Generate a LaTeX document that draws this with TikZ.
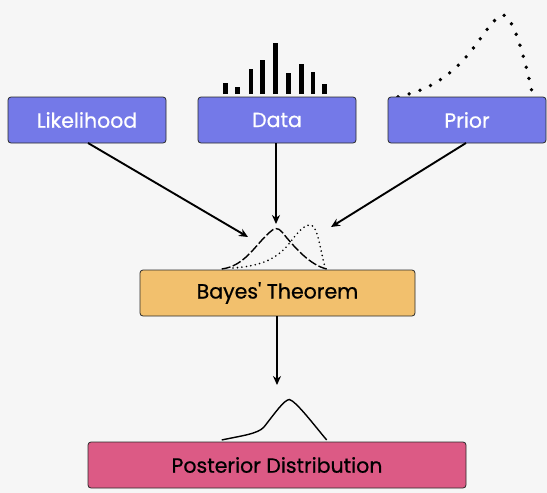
\documentclass[tikz,border=0pt]{standalone}
\usepackage{fontspec}
\setmainfont{Poppins}
\newfontfamily\labelfont{Poppins}[FakeBold=0.6]
\usetikzlibrary{arrows.meta}
\definecolor{bg}{HTML}{F6F6F6}
\definecolor{inputfill}{HTML}{7479E8}
\definecolor{bayesfill}{HTML}{F2C06D}
\definecolor{postfill}{HTML}{DC5A85}
\definecolor{edge}{HTML}{2A2A2A}
\tikzset{
  box/.style={draw=edge, line width=0.8pt, rounded corners=3pt, minimum height=46pt, inner sep=0pt, font=\labelfont\fontsize{20.5}{24}\selectfont},
  inbox/.style={box, fill=inputfill, text=white, minimum width=158pt},
  link/.style={line width=1.9pt, -{Stealth[length=9pt,width=8pt]}},
  curve/.style={line width=1.4pt, black},
  bar/.style={line width=4.5pt, black}
}
\begin{document}
\begin{tikzpicture}[x=1pt,y=-1pt]
\fill[bg] (0,0) rectangle (547,493);
\useasboundingbox (0,0) rectangle (547,493);

% data histogram above the Data box
\foreach \x/\t in {225.7/83.3, 237.7/87.3, 251/68.7, 262.3/60.3, 275.7/42.7, 288.7/72.7, 301.7/64, 313/72.3, 324.3/83.7}
  \draw[bar] (\x,94) -- (\x,\t);

% prior density (dotted)
\draw[line width=3.8pt, dash pattern=on 0pt off 11.5pt, line cap=round]
  (398,96.7) .. controls (430,90) and (455,75) .. (480,39)
  .. controls (492,22) and (500,13) .. (505,15.5)
  .. controls (515,22) and (525,60) .. (532,92);

% input boxes
\node[inbox] (lik) at (87,120) {Likelihood};
\node[inbox] (dat) at (277,120) {Data};
\node[inbox] (pri) at (467,120) {Prior};

% Bayes' theorem box
\node[box, fill=bayesfill, text=black, minimum width=275pt] (bay) at (277.5,293) {Bayes\textquotesingle\ Theorem};

% posterior box
\node[box, fill=postfill, text=black, minimum width=378pt] (pos) at (277,465) {Posterior Distribution};

% likelihood and prior sketches above Bayes' theorem
\draw[curve, dash pattern=on 9pt off 2.5pt]
  (221.7,269) .. controls (245,266) and (255,245) .. (270,232)
  .. controls (274,228) and (278,227) .. (282,232)
  .. controls (295,248) and (310,265) .. (326.7,269);
\draw[line width=1.8pt, dash pattern=on 0pt off 4.5pt, line cap=round]
  (233,268) .. controls (260,266) and (275,260) .. (288,245)
  .. controls (298,232) and (304,225) .. (310,225)
  .. controls (318,225) and (320,250) .. (325,267);

% posterior sketch
\draw[curve]
  (221.7,440) .. controls (240,436) and (258,434) .. (264,427)
  .. controls (275,413) and (284,400) .. (289.3,399.5)
  .. controls (296,401) and (314,425) .. (326.7,440);

% connectors
\coordinate (lt) at (248,237);
\coordinate (dt) at (276,224);
\coordinate (pt) at (331,227);
\coordinate (bt) at (277,385);
\draw[link] (88,143) -- (lt);
\draw[link] (dat.south -| dt) -- (dt);
\draw[link] (466,143) -- (pt);
\draw[link] (bay.south -| bt) -- (bt);
\end{tikzpicture}
\end{document}
